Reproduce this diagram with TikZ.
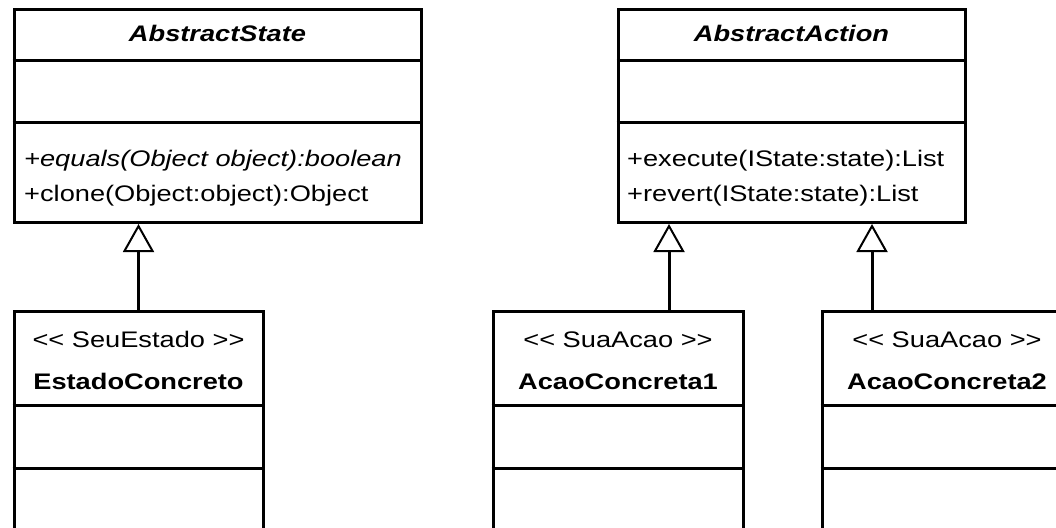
\documentclass[tikz,border=0pt]{standalone}
\usepackage{fontspec}
\setmainfont{Liberation Sans}[FakeStretch=1.21]
\usetikzlibrary{arrows.meta}
\begin{document}
\begin{tikzpicture}[x=1pt,y=-1pt,
  classbox/.style={draw, rectangle, line width=3pt, inner sep=0pt, fill=white},
  divider/.style={line width=3pt},
  txt/.style={inner sep=0pt, font=\fontsize{22.5}{26}\selectfont},
  gen/.style={line width=3pt,
    -{Triangle[open, fill=white, length=28pt, width=31pt, line width=2pt]}}
]
\useasboundingbox (0,0) rectangle (1056,527);

% abstract classes
\node[classbox, minimum width=407pt, minimum height=213pt] (state)  at (217.5,116) {};
\node[classbox, minimum width=347pt, minimum height=213pt] (action) at (791.5,116) {};
\draw[divider] (state.west |- 0,60)    -- (state.east |- 0,60);
\draw[divider] (state.west |- 0,122.5) -- (state.east |- 0,122.5);
\draw[divider] (action.west |- 0,60)    -- (action.east |- 0,60);
\draw[divider] (action.west |- 0,122.5) -- (action.east |- 0,122.5);

% concrete classes (continue below the page)
\node[classbox, minimum width=249pt, minimum height=300pt] (estado) at (138.5,461) {};
\node[classbox, minimum width=250pt, minimum height=300pt] (acao1)  at (618,461) {};
\node[classbox, minimum width=250pt, minimum height=300pt] (acao2)  at (947,461) {};
\foreach \c in {estado,acao1,acao2}{
  \draw[divider] (\c.west |- 0,405.5) -- (\c.east |- 0,405.5);
  \draw[divider] (\c.west |- 0,468)   -- (\c.east |- 0,468);
}

% texts
\node[txt, anchor=base] (stateName) at (217.5,41.5) {\bfseries\itshape AbstractState};
\node[txt, anchor=base west] (stateOpA) at (24,166) {\itshape +equals(Object object):boolean};
\node[txt, anchor=base west] (stateOpB) at (24,201) {+clone(Object:object):Object};

\node[txt, anchor=base] (actionName) at (791.5,41.5) {\bfseries\itshape AbstractAction};
\node[txt, anchor=base west] (actionOpA) at (627,166) {+execute(IState:state):List};
\node[txt, anchor=base west] (actionOpB) at (627,201) {+revert(IState:state):List};

\node[txt, anchor=base] (estadoSt)   at (138.5,347) {<{}< SeuEstado >{}>};
\node[txt, anchor=base] (estadoName) at (138.5,389) {\bfseries EstadoConcreto};
\node[txt, anchor=base] (acao1St)    at (618,347) {<{}< SuaAcao >{}>};
\node[txt, anchor=base] (acao1Name)  at (618,389) {\bfseries AcaoConcreta1};
\node[txt, anchor=base] (acao2St)    at (947,347) {<{}< SuaAcao >{}>};
\node[txt, anchor=base] (acao2Name)  at (947,389) {\bfseries AcaoConcreta2};

% generalisations
\draw[gen] (estado.north) -- (estado.north |- state.south);
\draw[gen] ([xshift=51pt]acao1.north) -- ([xshift=51pt]acao1.north |- action.south);
\draw[gen] ([xshift=-75pt]acao2.north) -- ([xshift=-75pt]acao2.north |- action.south);
\end{tikzpicture}
\end{document}
